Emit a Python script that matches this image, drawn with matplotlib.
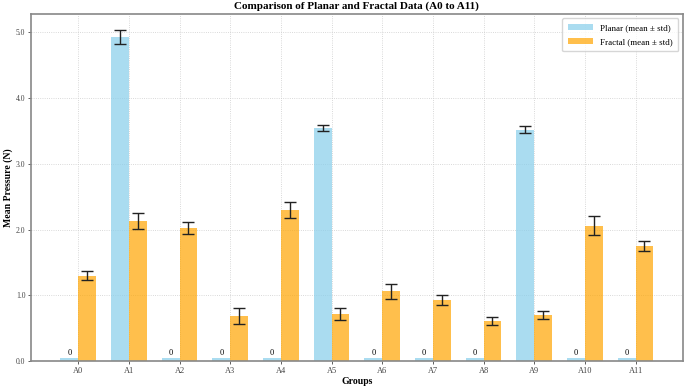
import matplotlib
matplotlib.use("Agg")
import matplotlib.pyplot as plt
import numpy as np

plt.rcParams['font.family'] = ['Liberation Serif', 'DejaVu Serif']

groups = ["A0", "A1", "A2", "A3", "A4", "A5", "A6", "A7", "A8", "A9", "A10", "A11"]
planar_mean = [0, 4.93, 0, 0, 0, 3.545, 0, 0, 0, 3.52, 0, 0]
planar_std = [0, 0.10, 0, 0, 0, 0.05, 0, 0, 0, 0.05, 0, 0]
fractal_mean = [1.30, 2.13, 2.02, 0.69, 2.30, 0.71, 1.06, 0.93, 0.61, 0.70, 2.06, 1.75]
fractal_std = [0.07, 0.12, 0.09, 0.12, 0.12, 0.09, 0.12, 0.07, 0.06, 0.065, 0.14, 0.08]

zero_height = 0.05
width = 0.35
err_style = dict(fmt="none", ecolor="#222222", elinewidth=1, capsize=4, capthick=1)

x = np.arange(len(groups))
fig, ax = plt.subplots(figsize=(6.85, 3.87), dpi=100)

# zero means get a small stub bar so they stay visible
p_heights = [m if m > 0 else zero_height for m in planar_mean]
ax.bar(x - width / 2, p_heights, width, color="skyblue", alpha=0.7, label="Planar (mean ± std)")
ax.bar(x + width / 2, fractal_mean, width, color="orange", alpha=0.7, label="Fractal (mean ± std)")

# error bars only where there is a value
nz = [i for i, m in enumerate(planar_mean) if m > 0]
ax.errorbar(x[nz] - width / 2, [planar_mean[i] for i in nz], yerr=[planar_std[i] for i in nz], **err_style)
ax.errorbar(x + width / 2, fractal_mean, yerr=fractal_std, **err_style)

for xi, m, h in zip(x, planar_mean, p_heights):
    if m == 0:
        ax.text(xi - width / 2, h + 0.01, "0", ha="center", va="bottom", fontsize=6)

ax.set_xticks(x)
ax.set_xticklabels(groups, fontsize=6)
ax.set_yticks([0, 1, 2, 3, 4, 5])
ax.set_yticklabels(["%.1f" % v for v in [0, 1, 2, 3, 4, 5]], fontsize=5.5)
ax.tick_params(length=2.5, width=0.6, pad=1.5, colors="#444444")
ax.set_xlabel("Groups", fontsize=7, fontweight="bold", labelpad=2)
ax.set_ylabel("Mean Pressure (N)", fontsize=7, fontweight="bold", labelpad=2)
ax.set_title("Comparison of Planar and Fractal Data (A0 to A11)", fontsize=8, fontweight="bold", pad=4)
ax.grid(True, linestyle=":", color="#cccccc", linewidth=0.6)
ax.set_axisbelow(True)
for sp in ax.spines.values():
    sp.set_color("#888888")
    sp.set_linewidth(1.2)
ax.legend(loc="upper right", fontsize=6.5, handlelength=2.8, borderpad=0.6, labelspacing=0.6)

plt.subplots_adjust(left=0.045, right=0.997, top=0.964, bottom=0.067)
plt.savefig("out.png", dpi=100)
